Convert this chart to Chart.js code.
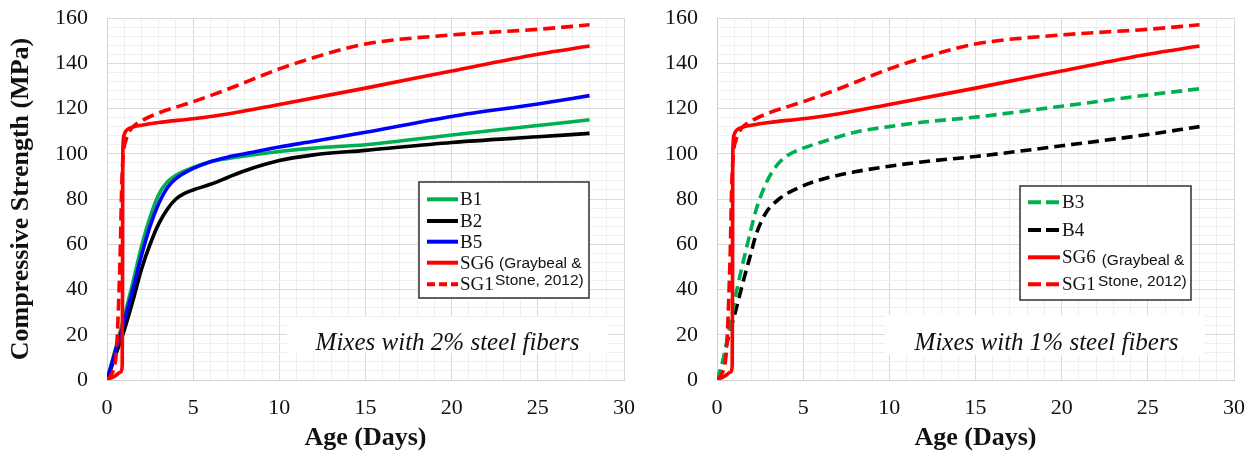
<!DOCTYPE html>
<html>
<head>
<meta charset="utf-8">
<script src="https://cdn.jsdelivr.net/npm/chart.js@4/dist/chart.umd.min.js"></script>
<style>
  body { margin: 0; background: #fff; }
  #wrap { position: relative; width: 1260px; height: 454px; }
  canvas { position: absolute; top: 0; }
</style>
</head>
<body>
<div id="wrap">
  <canvas id="chart2pct" width="650" height="454" style="left:0"></canvas>
  <canvas id="chart1pct" width="610" height="454" style="left:650px"></canvas>
</div>
<script>
// Compressive strength (MPa) vs age (days)
const xTicks = [0, 5, 10, 15, 20, 25, 30];
const yTicks = [0, 20, 40, 60, 80, 100, 120, 140, 160];

// 2% steel fibers
const b1Age = [0, 0.5, 1, 1.5, 2, 2.5, 3, 3.5, 4, 5, 6, 8, 10, 12, 15, 20, 25, 28];
const b1Str = [0, 14, 28, 43, 59, 72, 82, 87.5, 90.5, 94, 96.5, 99, 101, 102.5, 104, 108.3, 112.5, 115];
const b2Age = [0, 0.5, 1, 1.5, 2, 2.5, 3, 3.5, 4, 4.5, 5, 6, 7, 8, 10, 12, 15, 20, 25, 28];
const b2Str = [0, 11, 22, 35, 49, 60, 69, 75.5, 80, 82.5, 84, 86.5, 89.5, 92.5, 97, 99.5, 101.5, 105, 107.5, 109];
const b5Age = [0, 0.5, 1, 1.5, 2, 2.5, 3, 3.5, 4, 5, 6, 7, 8, 10, 12, 15, 20, 25, 28];
const b5Str = [0, 13, 26, 40, 55, 68, 78, 85, 89, 93.5, 96.5, 98.5, 100, 103, 105.5, 109.5, 116.5, 122, 125.7];

// 1% steel fibers
const b3Age = [0, 0.35, 0.7, 1.1, 1.7, 2.3, 2.85, 3.2, 3.6, 4, 4.6, 5, 6, 8, 10, 12, 15, 20, 25, 28];
const b3Str = [0, 9, 22, 38, 58, 76, 87, 92, 96, 98.8, 101.3, 102.5, 105, 109.5, 112, 114, 116.2, 121, 126, 128.7];
const b4Age = [0, 0.3, 0.6, 1.1, 1.5, 1.9, 2.3, 2.85, 3.6, 4.6, 6, 8, 10, 12, 15, 20, 25, 28];
const b4Str = [0, 6, 17, 31, 43, 54, 65, 74, 80, 84.5, 88.5, 92, 94.5, 96.5, 98.8, 103.5, 108.5, 112];

// Graybeal & Stone (2012)
const sg6Age = [0, 0.4, 0.8, 0.88, 0.9, 0.91, 0.93, 1, 1.2, 1.5, 2, 3, 5, 7, 10, 15, 20, 25, 28];
const sg6Str = [0, 1.5, 3.5, 6, 40, 90, 104, 108.5, 110.8, 111.8, 112.6, 113.8, 115.5, 117.6, 121.8, 129, 136.6, 144, 147.6];
const sg1Age = [0, 0.3, 0.5, 0.6, 0.7, 0.78, 0.85, 0.95, 1.1, 1.4, 2, 3, 5, 7, 10, 12, 15, 20, 25, 28];
const sg1Str = [0, 3, 9, 20, 40, 60, 85, 100, 106, 111, 114.5, 118, 123, 128.5, 137.5, 142.5, 148.5, 152.5, 155, 157];

const GREEN = '#00b050', RED = '#ff0000', BLUE = '#0000ff', BLACK = '#000000';

function pts(ages, vals) {
  return ages.map((a, i) => ({ x: a, y: vals[i] }));
}

function series(label, ages, vals, color, dash, order) {
  return {
    label: label,
    data: pts(ages, vals),
    borderColor: color,
    backgroundColor: color,
    borderWidth: 3.6,
    borderDash: dash || [],
    pointRadius: 0,
    cubicInterpolationMode: 'monotone',
    fill: false,
    order: order || 0
  };
}

// white caption box inside the plot
const captionBox = {
  id: 'captionBox',
  beforeDatasetsDraw(chart, args, o) {
    const ctx = chart.ctx;
    ctx.save();
    ctx.fillStyle = '#fff';
    ctx.fillRect(o.x, o.y, o.w, o.h);
    ctx.fillStyle = '#111';
    ctx.font = 'italic 25px "Liberation Serif"';
    ctx.textAlign = 'center';
    ctx.textBaseline = 'alphabetic';
    ctx.fillText(o.text, o.cx, o.baseline);
    ctx.restore();
  }
};

// boxed legend with the reference note
const legendBox = {
  id: 'legendBox',
  afterDatasetsDraw(chart, args, o) {
    const ctx = chart.ctx;
    ctx.save();
    ctx.fillStyle = '#fff';
    ctx.fillRect(o.x, o.y, o.w, o.h);
    ctx.strokeStyle = '#222';
    ctx.lineWidth = 1.4;
    ctx.strokeRect(o.x, o.y, o.w, o.h);
    chart.data.datasets.forEach((ds, i) => {
      const cy = o.rows[i];
      ctx.beginPath();
      ctx.setLineDash(ds.borderDash.length ? o.dash : []);
      ctx.strokeStyle = ds.borderColor;
      ctx.lineWidth = 4;
      ctx.moveTo(o.x + o.sample[0], cy);
      ctx.lineTo(o.x + o.sample[1], cy);
      ctx.stroke();
      ctx.setLineDash([]);
      ctx.fillStyle = '#111';
      ctx.font = '19px "Liberation Serif"';
      ctx.textAlign = 'left';
      ctx.textBaseline = 'middle';
      ctx.fillText(ds.label, o.x + o.textX, cy + 1);
    });
    ctx.font = '15.5px "Liberation Sans"';
    o.notes.forEach(n => {
      if (n.bg) {
        const w = ctx.measureText(n.text).width;
        ctx.fillStyle = '#fff';
        ctx.fillRect(n.x - 4, n.y - 9, w + 6, 18);
      }
      ctx.fillStyle = '#111';
      ctx.fillText(n.text, n.x, n.y);
    });
    ctx.restore();
  }
};

function axes(yTitle, yWidth) {
  const gridColor = step => ctx => (ctx.tick && ctx.tick.value % step === 0) ? '#d9d9d9' : '#efefef';
  return {
    x: {
      type: 'linear', min: xTicks[0], max: xTicks[xTicks.length - 1],
      ticks: {
        stepSize: 1, autoSkip: false, maxRotation: 0, padding: 15,
        color: '#111', font: { family: 'Liberation Serif', size: 22 },
        callback: v => xTicks.includes(v) ? v : ''
      },
      grid: { color: gridColor(5), drawTicks: false },
      border: { color: '#d0d0d0' },
      title: {
        display: true, text: 'Age (Days)', color: '#111',
        font: { family: 'Liberation Serif', size: 26, weight: 'bold' },
        padding: { top: 0, bottom: 0 }
      },
      afterFit: s => { s.height = 74; }
    },
    y: {
      type: 'linear', min: yTicks[0], max: yTicks[yTicks.length - 1],
      ticks: {
        stepSize: 4, autoSkip: false, padding: 0,
        color: '#111', font: { family: 'Liberation Serif', size: 22 },
        callback: v => yTicks.includes(v) ? v : ''
      },
      // invisible tick marks keep the labels off the axis
      grid: { color: gridColor(20), drawTicks: true, tickLength: 19, tickColor: 'rgba(0,0,0,0)' },
      border: { color: '#d0d0d0' },
      title: {
        display: !!yTitle, text: yTitle, color: '#111',
        font: { family: 'Liberation Serif', size: 26, weight: 'bold' },
        padding: { top: 6, bottom: 0 }
      },
      afterFit: s => { s.width = yWidth; }
    }
  };
}

new Chart(document.getElementById('chart2pct'), {
  type: 'line',
  data: {
    datasets: [
      series('B1', b1Age, b1Str, GREEN, null, 2),
      series('B2', b2Age, b2Str, BLACK, null, 2),
      series('B5', b5Age, b5Str, BLUE, null, 1),
      series('SG6', sg6Age, sg6Str, RED, null, 0),
      series('SG1', sg1Age, sg1Str, RED, [12, 6], 0)
    ]
  },
  options: {
    responsive: false,
    animation: false,
    layout: { padding: { top: 18, right: 21, bottom: 0, left: 0 } },
    scales: axes('Compressive Strength (MPa)', 107),
    plugins: {
      legend: { display: false },
      tooltip: { enabled: false },
      captionBox: { x: 287, y: 317, w: 321, h: 36, cx: 447.5, baseline: 350, text: 'Mixes with 2% steel fibers' },
      legendBox: {
        x: 419, y: 182, w: 170, h: 116,
        rows: [199.3, 221, 241.7, 262.7, 284.3],
        sample: [8, 39], textX: 41, dash: [8, 4],
        notes: [
          { text: '(Graybeal &', x: 499, y: 264 },
          { text: 'Stone, 2012)', x: 495, y: 281 }
        ]
      }
    }
  },
  plugins: [captionBox, legendBox]
});

new Chart(document.getElementById('chart1pct'), {
  type: 'line',
  data: {
    datasets: [
      series('B3', b3Age, b3Str, GREEN, [11, 6], 2),
      series('B4', b4Age, b4Str, BLACK, [11, 6], 2),
      series('SG6', sg6Age, sg6Str, RED, null, 0),
      series('SG1', sg1Age, sg1Str, RED, [12, 6], 0)
    ]
  },
  options: {
    responsive: false,
    animation: false,
    layout: { padding: { top: 18, right: 20, bottom: 0, left: 0 } },
    scales: axes('', 67),
    plugins: {
      legend: { display: false },
      tooltip: { enabled: false },
      captionBox: { x: 235, y: 315, w: 320, h: 40, cx: 396.5, baseline: 350, text: 'Mixes with 1% steel fibers' },
      legendBox: {
        x: 370, y: 186, w: 171, h: 114,
        rows: [202.3, 230, 257.3, 284.3],
        sample: [8, 40], textX: 42, dash: [13, 5],
        notes: [
          { text: '(Graybeal &', x: 451.7, y: 261, bg: true },
          { text: 'Stone, 2012)', x: 448, y: 281.7 }
        ]
      }
    }
  },
  plugins: [captionBox, legendBox]
});
</script>
</body>
</html>
